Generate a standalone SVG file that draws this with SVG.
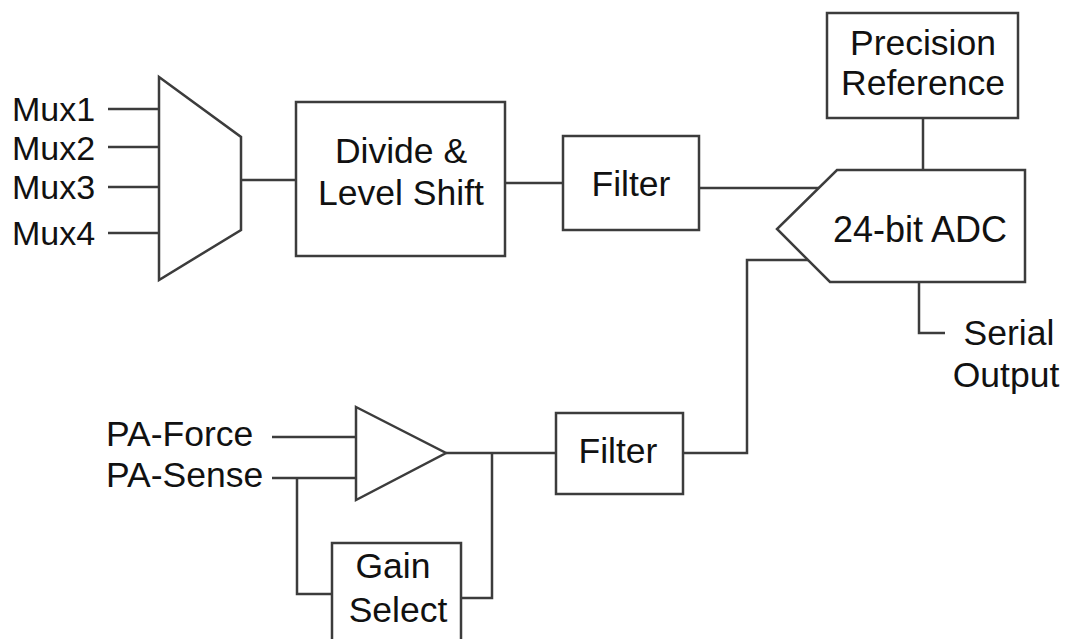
<svg xmlns="http://www.w3.org/2000/svg" width="1066" height="639" viewBox="0 0 1066 639">
<style>
.s{fill:#fff;stroke:#3c3c3c;stroke-width:2.5}
.w{fill:none;stroke:#3c3c3c;stroke-width:2.5}
text{font-family:"Liberation Sans",Arial,sans-serif;font-size:35.5px;fill:#111}
.mx{font-size:34px}
.m{text-anchor:middle}
</style>
<rect width="1066" height="639" fill="#fff"/>
<g id="connectors">
<path class="w" d="M108 109H159M108 147H159M108 187H159M108 233H159"/>
<path class="w" d="M241 180H296"/>
<path class="w" d="M505 183H563"/>
<path class="w" d="M699 188H820"/>
<path class="w" d="M923 118V170"/>
<path class="w" d="M919 282V333H945"/>
<path class="w" d="M272 437H356"/>
<path class="w" d="M272 478H356"/>
<path class="w" d="M446 453H556"/>
<path class="w" d="M297 478V594H332"/>
<path class="w" d="M461 598H492V453"/>
<path class="w" d="M683 453H747V260H808"/>
</g>
<g id="labels">
<text x="12" y="121" class="mx">Mux1</text>
<text x="12" y="160" class="mx">Mux2</text>
<text x="12" y="199" class="mx">Mux3</text>
<text x="12" y="245" class="mx">Mux4</text>
<text x="106" y="446">PA-Force</text>
<text x="106" y="487">PA-Sense</text>
<text x="1009" y="345" class="m">Serial</text>
<text x="1006" y="387" class="m">Output</text>
</g>
<g id="mux"><polygon class="s" points="159,77 241,137 241,230 159,280"/></g>
<g id="divide"><rect class="s" x="296" y="102" width="209" height="154"/>
<text x="401" y="163" class="m">Divide &amp;</text><text x="401" y="205" class="m">Level Shift</text></g>
<g id="filter1"><rect class="s" x="563" y="136" width="136" height="94"/>
<text x="631" y="196" class="m">Filter</text></g>
<g id="reference"><rect class="s" x="827" y="13" width="191" height="105"/>
<text x="923" y="55" class="m">Precision</text><text x="923" y="95" class="m">Reference</text></g>
<g id="adc"><polygon class="s" points="837,170 1025,170 1025,282 830,282 777,229"/>
<text x="920" y="242" class="m" style="font-size:36px">24-bit ADC</text></g>
<g id="amp"><polygon class="s" points="356,407 446,453 356,500"/></g>
<g id="filter2"><rect class="s" x="556" y="413" width="127" height="81"/>
<text x="618" y="463" class="m">Filter</text></g>
<g id="gain"><rect class="s" x="332" y="543" width="129" height="110"/>
<text x="393" y="578" class="m">Gain</text><text x="398" y="622" class="m">Select</text></g>
</svg>
